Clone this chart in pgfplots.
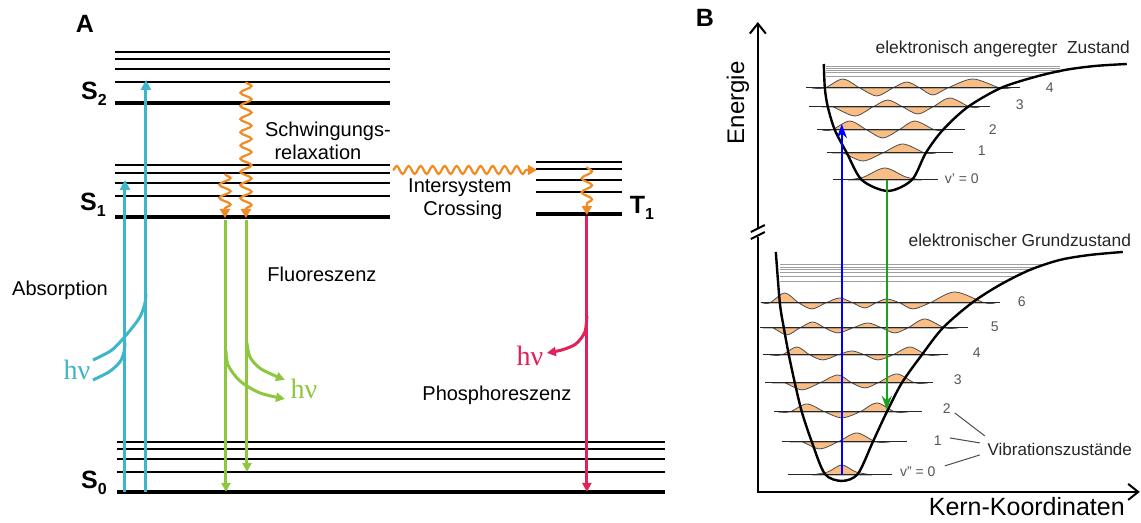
\documentclass[border=0pt]{standalone}
\usepackage{fontspec}
\setmainfont{Liberation Sans}
\newfontfamily\seriffont{Liberation Serif}
\usepackage{pgfplots}
\pgfplotsset{compat=1.18}
\usetikzlibrary{arrows.meta,decorations.pathmorphing}
\definecolor{tealA}{HTML}{3DB5CA}
\definecolor{greenA}{HTML}{8DC63F}
\definecolor{orangeA}{HTML}{F18A21}
\definecolor{redA}{HTML}{E0215A}
\definecolor{wavefill}{HTML}{F9BE86}
\definecolor{lblgray}{HTML}{555555}
\definecolor{greenB}{HTML}{1EA01E}
\newcommand{\fs}[1]{\fontsize{#1}{#1}\selectfont}
\begin{document}
\begin{tikzpicture}
\begin{axis}[scale only axis, width=570.5pt, height=259.5pt,
  xmin=0, xmax=1141, ymin=0, ymax=519, y dir=reverse,
  hide axis, clip=false, enlargelimits=false]
\path (axis cs:0,0) rectangle (axis cs:1141,519);
% ---------------- Panel A: levels
\pgfplotsinvokeforeach{52,59,69,82}{\addplot[black, line width=0.75pt] coordinates {(115,#1) (390,#1)};}
\addplot[black, line width=1.6pt] coordinates {(115,103) (390,103)};
\pgfplotsinvokeforeach{165,173,183,196}{\addplot[black, line width=0.75pt] coordinates {(115,#1) (390,#1)};}
\addplot[black, line width=1.6pt] coordinates {(115,217) (390,217)};
\pgfplotsinvokeforeach{162,169,180,192}{\addplot[black, line width=0.75pt] coordinates {(536,#1) (622,#1)};}
\addplot[black, line width=1.6pt] coordinates {(536,214) (622,214)};
\pgfplotsinvokeforeach{442,449,459,472}{\addplot[black, line width=0.75pt] coordinates {(117,#1) (665,#1)};}
\addplot[black, line width=1.6pt] coordinates {(117,492) (665,492)};
% absorption
\addplot[tealA, line width=1.5pt, -{Triangle[width=5pt,length=5pt]}] coordinates {(125,492) (125,180)};
\addplot[tealA, line width=1.5pt, -{Triangle[width=5pt,length=5pt]}] coordinates {(146,492) (146,80)};
\addplot[tealA, line width=1.5pt, smooth] coordinates {(93,360) (112,350) (128,333) (140,317) (145,303) (146,293)};
\addplot[tealA, line width=1.5pt, smooth] coordinates {(93,380) (109,372) (120,362) (124,352) (125,343)};
% fluorescence
\addplot[greenA, line width=1.5pt, -{Triangle[width=4.5pt,length=4.5pt]}] coordinates {(226,220) (226,492)};
\addplot[greenA, line width=1.5pt, -{Triangle[width=4.5pt,length=4.5pt]}] coordinates {(247,220) (247,472)};
\addplot[greenA, line width=1.5pt, smooth, -{Triangle[width=4.5pt,length=4.5pt]}] coordinates {(226,350) (228,365) (240,381) (260,393) (285,399)};
\addplot[greenA, line width=1.5pt, smooth, -{Triangle[width=4.5pt,length=4.5pt]}] coordinates {(247,343) (250,357) (261,369) (285,380)};
% phosphorescence
\addplot[redA, line width=1.5pt, -{Triangle[width=4.5pt,length=4.5pt]}] coordinates {(587,216) (587,492)};
\addplot[redA, line width=1.5pt, smooth, -{Triangle[width=4.5pt,length=4.5pt]}] coordinates {(587,316) (585,332) (576,344) (562,350) (547,353)};
% vibrational relaxation, ISC
\addplot[orangeA, line width=1.1pt, decorate, decoration={snake, amplitude=2.8pt, segment length=6.6pt, post length=4pt}, -{Triangle[width=5pt,length=4.5pt]}] coordinates {(246,82) (246,218)};
\addplot[orangeA, line width=1.1pt, decorate, decoration={snake, amplitude=2.8pt, segment length=6.6pt, post length=4pt}, -{Triangle[width=5pt,length=4.5pt]}] coordinates {(225,174) (225,218)};
\addplot[orangeA, line width=1.1pt, decorate, decoration={snake, amplitude=2pt, segment length=6pt, post length=4pt}, -{Triangle[width=5pt,length=4.5pt]}] coordinates {(393,170) (537,170)};
\addplot[orangeA, line width=1.1pt, decorate, decoration={snake, amplitude=2.6pt, segment length=7pt, post length=4pt}, -{Triangle[width=5pt,length=4.5pt]}] coordinates {(587,167) (587,215)};
% texts A
\node[font=\fs{12.5}\bfseries] at (85,24) {A};
\node[font=\fs{12.5}\bfseries] at (94,94) {S\raisebox{-0.45ex}{\fs{8}2}};
\node[font=\fs{12.5}\bfseries] at (93,205) {S\raisebox{-0.45ex}{\fs{8}1}};
\node[font=\fs{12.5}\bfseries] at (94,483) {S\raisebox{-0.45ex}{\fs{8}0}};
\node[font=\fs{12.5}\bfseries] at (642,208) {T\raisebox{-0.45ex}{\fs{8}1}};
\node[font=\fs{10}] at (328,131) {Schwingungs-};
\node[font=\fs{10}] at (318,152) {relaxation};
\node[font=\fs{10}] at (460,188) {Intersystem};
\node[font=\fs{10}] at (463,210) {Crossing};
\node[font=\fs{10}] at (322,274) {Fluoreszenz};
\node[font=\fs{10}] at (60,290) {Absorption};
\node[font=\fs{10}] at (497,395) {Phosphoreszenz};
\node[font=\seriffont\fs{14}, text=tealA] at (77,370) {hν};
\node[font=\seriffont\fs{14}, text=greenA] at (304,389) {hν};
\node[font=\seriffont\fs{14}, text=redA] at (530,356) {hν};
% ---------------- Panel B: wavefunctions (ground)
\addplot[smooth, fill=wavefill, draw=black!70, line width=0.4pt] coordinates {(812,475) (828,472) (842,465) (856,472) (872,475)} -- cycle;
\addplot[smooth, fill=wavefill, draw=black!70, line width=0.4pt] coordinates {(790,442) (802,442) (820,449) (838,442) (857,433) (876,442) (890,442)} -- cycle;
\addplot[smooth, fill=wavefill, draw=black!70, line width=0.4pt] coordinates {(778,412) (790,412) (807,404) (825,412) (842,418) (860,412) (877,403) (895,412) (908,412)} -- cycle;
\addplot[smooth, fill=wavefill, draw=black!70, line width=0.4pt] coordinates {(772,383) (785,383) (802,390) (820,383) (838,375) (852,383) (865,388) (878,383) (897,374) (915,383) (928,383)} -- cycle;
\addplot[smooth, fill=wavefill, draw=black!70, line width=0.4pt] coordinates {(770,355) (782,355) (797,347) (810,355) (823,360) (838,355) (852,351) (865,355) (878,360) (893,355) (910,347) (927,355) (940,355)} -- cycle;
\addplot[smooth, fill=wavefill, draw=black!70, line width=0.4pt] coordinates {(763,328) (773,328) (787,335) (800,328) (813,322) (825,328) (838,333) (853,328) (868,323) (882,328) (895,333) (908,328) (925,319) (945,328) (958,328)} -- cycle;
\addplot[smooth, fill=wavefill, draw=black!70, line width=0.4pt] coordinates {(763,303) (770,303) (785,293) (799,303) (812,309) (826,303) (840,298) (853,303) (865,308) (876,303) (887,299) (900,303) (913,309) (930,303) (955,292) (985,303) (995,303)} -- cycle;
% wavefunctions (excited)
\addplot[smooth, fill=wavefill, draw=black!70, line width=0.4pt] coordinates {(848,180) (864,177) (885,168) (906,177) (922,180)} -- cycle;
\addplot[smooth, fill=wavefill, draw=black!70, line width=0.4pt] coordinates {(832,153) (843,153) (863,161) (883,153) (903,144) (925,153) (936,153)} -- cycle;
\addplot[smooth, fill=wavefill, draw=black!70, line width=0.4pt] coordinates {(822,130) (832,130) (850,121) (867,130) (883,138) (899,130) (915,121) (935,130) (945,130)} -- cycle;
\addplot[smooth, fill=wavefill, draw=black!70, line width=0.4pt] coordinates {(822,107) (833,107) (855,116) (873,107) (888,100) (903,107) (918,114) (933,107) (950,98) (970,107) (980,107)} -- cycle;
\addplot[smooth, fill=wavefill, draw=black!70, line width=0.4pt] coordinates {(812,88) (825,88) (843,79) (860,88) (877,96) (893,88) (907,82) (920,88) (933,95) (948,88) (973,79) (1000,88) (1010,88)} -- cycle;
% level lines B
\addplot[black!85, line width=0.5pt] coordinates {(833,180) (938,180)};
\addplot[black!85, line width=0.5pt] coordinates {(827,153) (953,153)};
\addplot[black!85, line width=0.5pt] coordinates {(817,130) (965,130)};
\addplot[black!85, line width=0.5pt] coordinates {(809,107) (990,107)};
\addplot[black!85, line width=0.5pt] coordinates {(806,88) (1020,88)};
\addplot[black!85, line width=0.5pt] coordinates {(788,475) (892,475)};
\addplot[black!85, line width=0.5pt] coordinates {(782,442) (907,442)};
\addplot[black!85, line width=0.5pt] coordinates {(774,412) (922,412)};
\addplot[black!85, line width=0.5pt] coordinates {(765,383) (933,383)};
\addplot[black!85, line width=0.5pt] coordinates {(763,355) (948,355)};
\addplot[black!85, line width=0.5pt] coordinates {(760,328) (968,328)};
\addplot[black!85, line width=0.5pt] coordinates {(761,303) (1000,303)};
% continuum
\pgfplotsinvokeforeach{66,68,70,72}{\addplot[black!38, line width=0.45pt] coordinates {(826,#1) (1060,#1)};}
\addplot[black!38, line width=0.45pt] coordinates {(826,76) (1037,76)};
\addplot[black!38, line width=0.45pt] coordinates {(780,264) (1043,264)};
\addplot[black!38, line width=0.45pt] coordinates {(780,267) (1037,267)};
\addplot[black!38, line width=0.45pt] coordinates {(780,269) (1032,269)};
\addplot[black!38, line width=0.45pt] coordinates {(780,272) (1025,272)};
\addplot[black!38, line width=0.45pt] coordinates {(780,276) (1016,276)};
\addplot[black!38, line width=0.45pt] coordinates {(780,281) (1005,281)};
% Morse curves
\addplot[black, line width=1.2pt, smooth] coordinates {(824,64) (825,88) (828,107) (835,130) (847,153) (862,180) (888,191) (912,180) (926,153) (943,130) (968,107) (1001,88) (1035,77) (1065,70) (1095,66) (1127,64)};
\addplot[black, line width=1.2pt, smooth] coordinates {(776,252) (780,303) (784,328) (789,355) (795,383) (802,412) (812,442) (825,474) (842,481) (858,474) (873,442) (887,412) (902,383) (922,355) (943,328) (972,303) (1000,285) (1030,270) (1060,260) (1090,255) (1123,252)};
% transitions B
\addplot[blue, line width=1.1pt, -{Stealth[width=5pt,length=7pt]}] coordinates {(842,475) (842,124)};
\addplot[greenB, line width=1.1pt, -{Stealth[width=5pt,length=7pt]}] coordinates {(887,180) (887,410)};
% axes B
\addplot[black, line width=1pt, -{Straight Barb[width=8pt,length=5pt]}] coordinates {(758,229) (758,22)};
\addplot[black, line width=1pt] coordinates {(758,237) (758,492) (1138,492)};
\addplot[black, line width=1pt, -{Straight Barb[width=8pt,length=5pt]}] coordinates {(1100,492) (1140,492)};
\addplot[black, line width=1pt] coordinates {(751,232) (765,225)};
\addplot[black, line width=1pt] coordinates {(751,239) (765,232)};
% pointer lines
\addplot[black!70, line width=0.5pt] coordinates {(955,413) (985,436)};
\addplot[black!70, line width=0.5pt] coordinates {(950,438) (980,443)};
\addplot[black!70, line width=0.5pt] coordinates {(945,466) (980,455)};
% texts B
\node[font=\fs{12.5}\bfseries] at (705,18) {B};
\node[font=\fs{12}, rotate=90] at (738,103) {Energie};
\node[font=\fs{12.5}] at (1027,507) {Kern-Koordinaten};
\node[font=\fs{8.7}, text=black!85] at (1003,49) {elektronisch angeregter~ Zustand};
\node[font=\fs{8.7}, text=black!85] at (1020,240) {elektronischer Grundzustand};
\node[font=\fs{8.5}, text=black!85] at (1060,450) {Vibrationszustände};
\node[font=\fs{7}, text=lblgray] at (962,179) {v' = 0};
\node[font=\fs{7}, text=lblgray] at (982,151) {1};
\node[font=\fs{7}, text=lblgray] at (993,130) {2};
\node[font=\fs{7}, text=lblgray] at (1020,105) {3};
\node[font=\fs{7}, text=lblgray] at (1050,88) {4};
\node[font=\fs{7}, text=lblgray] at (918,472) {v'' = 0};
\node[font=\fs{7}, text=lblgray] at (938,441) {1};
\node[font=\fs{7}, text=lblgray] at (947,409) {2};
\node[font=\fs{7}, text=lblgray] at (958,380) {3};
\node[font=\fs{7}, text=lblgray] at (977,353) {4};
\node[font=\fs{7}, text=lblgray] at (995,327) {5};
\node[font=\fs{7}, text=lblgray] at (1022,302) {6};
\end{axis}
\end{tikzpicture}
\end{document}
